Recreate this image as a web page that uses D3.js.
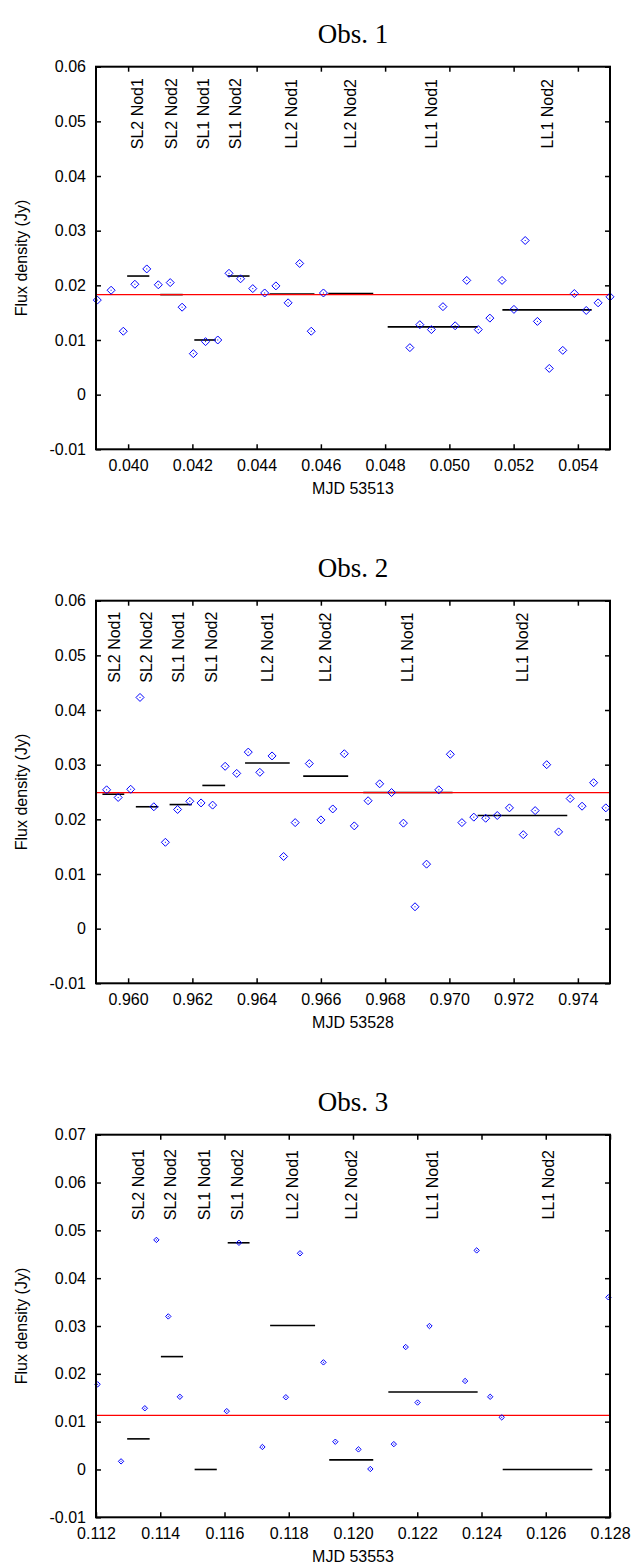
<!DOCTYPE html>
<html><head><meta charset="utf-8">
<script src="https://cdn.jsdelivr.net/npm/d3@7"></script>
<style>
body{margin:0;background:#fff}
text{font-family:"Liberation Sans",Arial,Helvetica,sans-serif}
</style>
</head><body>
<svg id="c" width="632" height="1568"></svg>
<script>
// ---------- data ----------
const segmentNames = ["SL2 Nod1","SL2 Nod2","SL1 Nod1","SL1 Nod2","LL2 Nod1","LL2 Nod2","LL1 Nod1","LL1 Nod2"];

// Obs. 1
const obs1Title = "Obs. 1";
const obs1XLabel = "MJD 53513";
const obs1XTicks = [0.040,0.042,0.044,0.046,0.048,0.050,0.052,0.054];
const obs1XTickLabels = ["0.040","0.042","0.044","0.046","0.048","0.050","0.052","0.054"];
const obs1YTicks = [-0.01,0,0.01,0.02,0.03,0.04,0.05,0.06];
const obs1YTickLabels = ["-0.01","0","0.01","0.02","0.03","0.04","0.05","0.06"];
const obs1X = [0.03904,0.03947,0.03985,0.04021,0.04058,0.04094,0.04131,0.04168,0.04203,0.04241,
  0.04279,0.04314,0.04350,0.04388,0.04425,0.04460,0.04498,0.04534,0.04570,0.04608,
  0.04877,0.04908,0.04944,0.04980,0.05018,0.05054,0.05090,0.05126,0.05164,0.05201,
  0.05236,0.05274,0.05311,0.05353,0.05389,0.05426,0.05463,0.05500];
const obs1Y = [0.0173,0.0191,0.0116,0.0202,0.0230,0.0201,0.0205,0.0160,0.0075,0.0097,
  0.0100,0.0222,0.0212,0.0194,0.0186,0.0199,0.0168,0.0240,0.0116,0.0186,
  0.0086,0.0128,0.0119,0.0161,0.0126,0.0209,0.0119,0.0140,0.0209,0.0156,
  0.0282,0.0134,0.0048,0.0081,0.0185,0.0154,0.0168,0.0179];
const obs1MeanStart = [0.03997,0.04100,0.04206,0.04310,0.04440,0.04623,0.04808,0.05165];
const obs1MeanEnd   = [0.04066,0.04170,0.04273,0.04378,0.04580,0.04763,0.05088,0.05443];
const obs1MeanY     = [0.0217,0.0183,0.0100,0.0217,0.0184,0.0185,0.0124,0.0155];
const obs1Overall = 0.0183;
const obs1LabelX = [0.040307,0.041335,0.042331,0.043327,0.045101,0.046907,0.049459,0.053039];

// Obs. 2
const obs2Title = "Obs. 2";
const obs2XLabel = "MJD 53528";
const obs2XTicks = [0.960,0.962,0.964,0.966,0.968,0.970,0.972,0.974];
const obs2XTickLabels = ["0.960","0.962","0.964","0.966","0.968","0.970","0.972","0.974"];
const obs2YTicks = [-0.01,0,0.01,0.02,0.03,0.04,0.05,0.06];
const obs2YTickLabels = ["-0.01","0","0.01","0.02","0.03","0.04","0.05","0.06"];
const obs2X = [0.95933,0.95969,0.96008,0.96037,0.96080,0.96116,0.96154,0.96192,0.96227,0.96263,
  0.96302,0.96338,0.96374,0.96410,0.96448,0.96484,0.96520,0.96564,0.96600,0.96637,
  0.96673,0.96704,0.96747,0.96783,0.96820,0.96857,0.96893,0.96929,0.96967,0.97003,
  0.97039,0.97076,0.97113,0.97149,0.97187,0.97230,0.97267,0.97303,0.97340,0.97376,
  0.97413,0.97449,0.97487];
const obs2Y = [0.0254,0.0240,0.0255,0.0423,0.0223,0.0158,0.0218,0.0233,0.0230,0.0226,
  0.0297,0.0284,0.0323,0.0286,0.0316,0.0132,0.0194,0.0302,0.0199,0.0219,
  0.0320,0.0188,0.0234,0.0265,0.0249,0.0193,0.0040,0.0118,0.0254,0.0319,
  0.0194,0.0204,0.0202,0.0207,0.0221,0.0172,0.0216,0.0300,0.0177,0.0238,
  0.0224,0.0267,0.0221];
const obs2MeanStart = [0.95920,0.96024,0.96129,0.96231,0.96364,0.96545,0.96732,0.97088];
const obs2MeanEnd   = [0.95988,0.96094,0.96198,0.96302,0.96503,0.96685,0.97010,0.97367];
const obs2MeanY     = [0.0246,0.0223,0.0227,0.0262,0.0303,0.0279,0.0249,0.0207];
const obs2Overall = 0.0249;
const obs2LabelX = [0.95957,0.96058,0.96158,0.96260,0.96433,0.96615,0.96869,0.97227];

// Obs. 3
const obs3Title = "Obs. 3";
const obs3XLabel = "MJD 53553";
const obs3XTicks = [0.112,0.114,0.116,0.118,0.120,0.122,0.124,0.126,0.128];
const obs3XTickLabels = ["0.112","0.114","0.116","0.118","0.120","0.122","0.124","0.126","0.128"];
const obs3YTicks = [-0.01,0,0.01,0.02,0.03,0.04,0.05,0.06,0.07];
const obs3YTickLabels = ["-0.01","0","0.01","0.02","0.03","0.04","0.05","0.06","0.07"];
const obs3X = [0.11205,0.11278,0.11352,0.11388,0.11425,0.11461,0.11607,0.11645,0.11718,0.11791,
  0.11835,0.11908,0.11945,0.12017,0.12054,0.12127,0.12164,0.12201,0.12238,0.12349,
  0.12385,0.12427,0.12463,0.12795];
const obs3Y = [0.0178,0.0017,0.0128,0.0480,0.0320,0.0152,0.0122,0.0474,0.0047,0.0151,
  0.0452,0.0224,0.0058,0.0042,0.0001,0.0053,0.0256,0.0140,0.0300,0.0185,
  0.0458,0.0152,0.0109,0.0360];
const obs3MeanStart = [0.11297,0.11402,0.11507,0.11610,0.11742,0.11926,0.12110,0.12466];
const obs3MeanEnd   = [0.11367,0.11471,0.11576,0.11678,0.11882,0.12063,0.12388,0.12745];
const obs3MeanY     = [0.0064,0.0236,0.0000,0.0474,0.0301,0.0020,0.0162,0.0000];
const obs3Overall = 0.0113;
const obs3LabelX = [0.11332,0.11433,0.11539,0.11641,0.11811,0.11996,0.12247,0.12608];

// ---------- build ----------
const panels = [
  {title:obs1Title, xlabel:obs1XLabel, xDomain:[0.039,0.055], yDomain:[-0.01,0.06],
   xTicks:obs1XTicks, xTickLabels:obs1XTickLabels, yTicks:obs1YTicks, yTickLabels:obs1YTickLabels,
   px:obs1X, py:obs1Y, m0:obs1MeanStart, m1:obs1MeanEnd, my:obs1MeanY, overall:obs1Overall,
   labelX:obs1LabelX, labelOff:47, r:4},
  {title:obs2Title, xlabel:obs2XLabel, xDomain:[0.959,0.975], yDomain:[-0.01,0.06],
   xTicks:obs2XTicks, xTickLabels:obs2XTickLabels, yTicks:obs2YTicks, yTickLabels:obs2YTickLabels,
   px:obs2X, py:obs2Y, m0:obs2MeanStart, m1:obs2MeanEnd, my:obs2MeanY, overall:obs2Overall,
   labelX:obs2LabelX, labelOff:46.5, r:4},
  {title:obs3Title, xlabel:obs3XLabel, xDomain:[0.112,0.128], yDomain:[-0.01,0.07],
   xTicks:obs3XTicks, xTickLabels:obs3XTickLabels, yTicks:obs3YTicks, yTickLabels:obs3YTickLabels,
   px:obs3X, py:obs3Y, m0:obs3MeanStart, m1:obs3MeanEnd, my:obs3MeanY, overall:obs3Overall,
   labelX:obs3LabelX, labelOff:50, r:2.7}
];

const svg = d3.select("#c");
svg.append("rect").attr("width",632).attr("height",1568).attr("fill","#fff");

const L = 96, R = 610, PH = 382.6;

panels.forEach((p, i) => {
  const top = 66.7 + i*534, bottom = top + PH;
  const x = d3.scaleLinear().domain(p.xDomain).range([L, R]);
  const y = d3.scaleLinear().domain(p.yDomain).range([bottom, top]);
  const g = svg.append("g");

  // title
  g.append("text").attr("x", (L+R)/2).attr("y", top - 24)
    .attr("text-anchor","middle")
    .style("font-family","'Liberation Serif','DejaVu Serif',serif")
    .style("font-size","27px").text(p.title);

  // axes
  const fs = "16px";
  const ax = g.append("g").attr("transform",`translate(0,${bottom})`)
    .call(d3.axisBottom(x).tickValues(p.xTicks).tickFormat((d,k)=>p.xTickLabels[k]).tickSize(-5).tickPadding(10.5));
  const axT = g.append("g").attr("transform",`translate(0,${top})`)
    .call(d3.axisTop(x).tickValues(p.xTicks).tickFormat("").tickSize(-5));
  const ay = g.append("g").attr("transform",`translate(${L},0)`)
    .call(d3.axisLeft(y).tickValues(p.yTicks).tickFormat((d,k)=>p.yTickLabels[k]).tickSize(-5).tickPadding(10));
  const ayR = g.append("g").attr("transform",`translate(${R},0)`)
    .call(d3.axisRight(y).tickValues(p.yTicks).tickFormat("").tickSize(-5));
  [ax,axT,ay,ayR].forEach(a => {
    a.select(".domain").remove();
    a.selectAll(".tick line").attr("stroke","#000").attr("stroke-width",1.5);
    a.selectAll("text").style("font-size",fs).attr("fill","#000")
      .style("font-family","'Liberation Sans',Arial,sans-serif");
  });

  // axis titles
  g.append("text").attr("x",(L+R)/2).attr("y", bottom + 45)
    .attr("text-anchor","middle").style("font-size",fs).text(p.xlabel);
  g.append("text").attr("transform",`translate(21,${(top+bottom)/2}) rotate(-90)`)
    .attr("text-anchor","middle").attr("dominant-baseline","central")
    .style("font-size",fs).text("Flux density (Jy)");

  // segment labels
  g.selectAll(".seg").data(segmentNames).enter().append("text")
    .attr("transform",(d,k)=>`translate(${x(p.labelX[k])},${top + p.labelOff}) rotate(-90)`)
    .attr("text-anchor","middle").attr("dominant-baseline","central")
    .style("font-size",fs).text(d=>d);

  // mean lines
  g.selectAll(".mean").data(p.my).enter().append("line")
    .attr("x1",(d,k)=>x(p.m0[k])).attr("x2",(d,k)=>x(p.m1[k]))
    .attr("y1",d=>y(d)).attr("y2",d=>y(d))
    .attr("stroke","#000").attr("stroke-width",1.6);

  // overall line
  g.append("line").attr("x1",L).attr("x2",R)
    .attr("y1",y(p.overall)).attr("y2",y(p.overall))
    .attr("stroke","#ff0000").attr("stroke-width",1.2);

  // points
  const r = p.r;
  const diamond = `M0,${-r}L${r},0L0,${r}L${-r},0Z`;
  const pts = g.selectAll(".pt").data(p.py).enter().append("g")
    .attr("transform",(d,k)=>`translate(${x(p.px[k])},${y(d)})`);
  pts.append("path").attr("d",diamond).attr("fill","none")
    .attr("stroke","#0000ff").attr("stroke-width",1);
  pts.append("rect").attr("x",-0.5).attr("y",-0.5).attr("width",1).attr("height",1)
    .attr("fill","#0000ff");

  // frame
  g.append("rect").attr("x",L).attr("y",top).attr("width",R-L).attr("height",PH)
    .attr("fill","none").attr("stroke","#000").attr("stroke-width",2);
});
</script>
</body></html>
